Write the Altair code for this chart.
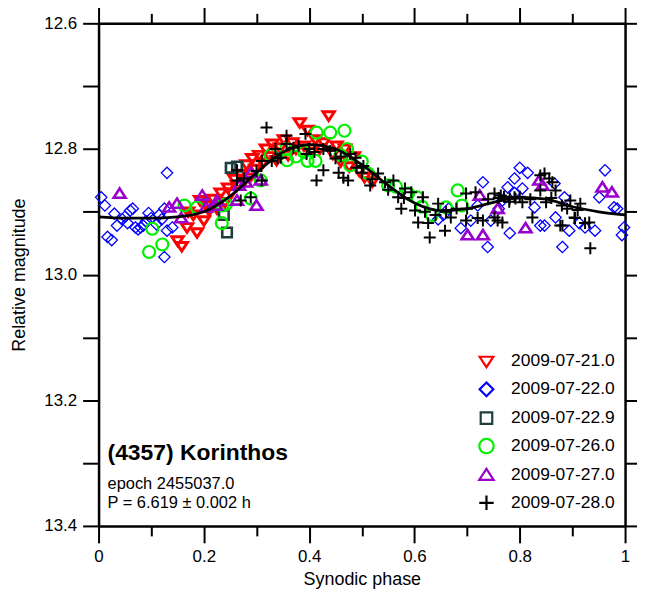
import altair as alt
import pandas as pd

series = ["2009-07-21.0", "2009-07-22.0", "2009-07-22.9",
          "2009-07-26.0", "2009-07-27.0", "2009-07-28.0"]
colors = ["#ff0000", "#0000ff", "#1f3d3d", "#00f000", "#9900cc", "#000000"]
shapes = [
    "M-0.95,-0.65L0.95,-0.65L0,0.8Z",
    "M0,-0.95L0.95,0L0,0.95L-0.95,0Z",
    "M-0.8,-0.8L0.8,-0.8L0.8,0.8L-0.8,0.8Z",
    "circle",
    "M0,-0.85L1,0.7L-1,0.7Z",
    "M-1,0L1,0M0,-1L0,1",
]
stroke_widths = [3.0, 1.3, 2.6, 2.2, 2.6, 2.0]

red_phase = [0.150, 0.158, 0.170, 0.168, 0.180, 0.187, 0.193, 0.200, 0.205, 0.210,
             0.218, 0.225, 0.232, 0.240, 0.246, 0.252, 0.258, 0.263, 0.270, 0.276,
             0.281, 0.287, 0.292, 0.298, 0.305, 0.312, 0.318, 0.325, 0.330, 0.338,
             0.345, 0.352, 0.360, 0.368, 0.375, 0.382, 0.390, 0.397, 0.405, 0.412,
             0.420, 0.428, 0.437, 0.445, 0.452, 0.460, 0.468, 0.476, 0.485, 0.495,
             0.505, 0.520]
red_mag = [12.946, 12.955, 12.900, 12.925, 12.905, 12.933, 12.882, 12.914, 12.890, 12.898,
           12.880, 12.895, 12.870, 12.885, 12.862, 12.870, 12.848, 12.858, 12.840, 12.852,
           12.825, 12.846, 12.815, 12.832, 12.810, 12.822, 12.800, 12.812, 12.792, 12.818,
           12.798, 12.785, 12.810, 12.790, 12.800, 12.758, 12.795, 12.770, 12.805, 12.785,
           12.800, 12.790, 12.747, 12.808, 12.795, 12.820, 12.800, 12.828, 12.812, 12.835,
           12.845, 12.852]

blue_phase = [0.005, 0.012, 0.017, 0.025, 0.030, 0.035, 0.045, 0.050, 0.055, 0.060,
              0.065, 0.070, 0.075, 0.080, 0.085, 0.090, 0.095, 0.100, 0.110, 0.115,
              0.120, 0.125, 0.130, 0.130, 0.125, 0.140,
              0.645, 0.655, 0.665, 0.688, 0.707, 0.720, 0.730, 0.739, 0.745, 0.760,
              0.767, 0.777, 0.781, 0.790, 0.790, 0.800, 0.805, 0.815, 0.828, 0.839,
              0.847, 0.866, 0.868, 0.881, 0.885, 0.894, 0.913, 0.924, 0.943, 0.951,
              0.962, 0.979, 0.985, 0.994, 0.998]
blue_mag = [12.877, 12.890, 12.940, 12.945, 12.903, 12.922, 12.912, 12.908, 12.918, 12.898,
            12.895, 12.925, 12.928, 12.925, 12.922, 12.915, 12.902, 12.910, 12.920, 12.905,
            12.912, 12.895, 12.838, 12.930, 12.972, 12.925,
            12.912, 12.905, 12.895, 12.926, 12.914, 12.890, 12.853, 12.956, 12.914, 12.895,
            12.882, 12.861, 12.934, 12.847, 12.870, 12.830, 12.863, 12.838, 12.893, 12.922,
            12.922, 12.855, 12.909, 12.956, 12.877, 12.930, 12.918, 12.925, 12.930, 12.877,
            12.834, 12.893, 12.895, 12.937, 12.925]

square_phase = [0.238, 0.244, 0.251, 0.263]
square_mag = [12.905, 12.933, 12.830, 12.828]

green_phase = [0.096, 0.102, 0.121, 0.163, 0.187, 0.234, 0.235, 0.242, 0.289, 0.308,
               0.327, 0.356, 0.358, 0.375, 0.390, 0.397, 0.412, 0.414, 0.440, 0.467,
               0.460, 0.472, 0.478, 0.500, 0.512, 0.550, 0.565, 0.588, 0.605, 0.614,
               0.633, 0.660, 0.682, 0.690]
green_mag = [12.964, 12.927, 12.952, 12.890, 12.893, 12.918, 12.890, 12.888, 12.879, 12.850,
             12.810, 12.800, 12.818, 12.812, 12.805, 12.819, 12.819, 12.774, 12.774, 12.771,
             12.810, 12.800, 12.826, 12.820, 12.839, 12.858, 12.860, 12.871, 12.877, 12.892,
             12.905, 12.893, 12.866, 12.890]

purple_phase = [0.040, 0.134, 0.149, 0.157, 0.197, 0.204, 0.223, 0.225, 0.263, 0.267,
                0.280, 0.289, 0.300, 0.308, 0.701, 0.724, 0.730, 0.758, 0.811, 0.837,
                0.843, 0.957, 0.975]
purple_mag = [12.871, 12.893, 12.887, 12.910, 12.874, 12.893, 12.890, 12.882, 12.882, 12.858,
              12.853, 12.838, 12.890, 12.850, 12.937, 12.874, 12.937, 12.895, 12.926, 12.850,
              12.858, 12.861, 12.869]

black_phase = [0.263, 0.263, 0.270, 0.276, 0.289, 0.300, 0.310, 0.310, 0.319, 0.329,
               0.336, 0.340, 0.346, 0.357, 0.357, 0.370, 0.380, 0.393, 0.395, 0.400,
               0.410, 0.414, 0.427, 0.427, 0.440, 0.450, 0.456, 0.460, 0.465, 0.474,
               0.478, 0.488, 0.490, 0.500, 0.503, 0.516, 0.520, 0.531, 0.544, 0.550,
               0.560, 0.569, 0.575, 0.580, 0.582, 0.594, 0.601, 0.607, 0.616, 0.620,
               0.626, 0.629, 0.640, 0.645, 0.658, 0.660, 0.669, 0.680, 0.698, 0.698,
               0.700, 0.716, 0.720, 0.730, 0.740, 0.752, 0.752, 0.758, 0.760, 0.764,
               0.767, 0.770, 0.781, 0.780, 0.790, 0.792, 0.800, 0.805, 0.820, 0.824,
               0.839, 0.839, 0.847, 0.850, 0.856, 0.862, 0.860, 0.868, 0.877, 0.880,
               0.881, 0.890, 0.896, 0.904, 0.905, 0.910, 0.915, 0.924, 0.932, 0.934]
black_mag = [12.834, 12.850, 12.882, 12.847, 12.877, 12.835, 12.819, 12.850, 12.766, 12.819,
             12.800, 12.815, 12.814, 12.779, 12.792, 12.798, 12.795, 12.776, 12.808, 12.800,
             12.805, 12.850, 12.800, 12.834, 12.803, 12.815, 12.838, 12.812, 12.846, 12.850,
             12.808, 12.814, 12.830, 12.838, 12.827, 12.858, 12.848, 12.839, 12.853, 12.865,
             12.850, 12.877, 12.895, 12.878, 12.863, 12.869, 12.898, 12.917, 12.877, 12.900,
             12.918, 12.941, 12.905, 12.887, 12.930, 12.900, 12.909, 12.895, 12.871, 12.914,
             12.895, 12.869, 12.910, 12.914, 12.880, 12.871, 12.909, 12.914, 12.878, 12.874,
             12.917, 12.876, 12.879, 12.884, 12.877, 12.879, 12.876, 12.885, 12.880, 12.909,
             12.842, 12.866, 12.839, 12.885, 12.847, 12.853, 12.878, 12.866, 12.922, 12.890,
             12.922, 12.895, 12.882, 12.909, 12.910, 12.897, 12.887, 12.918, 12.917, 12.958]

curve_phase = [0.00, 0.05, 0.10, 0.15, 0.20, 0.25, 0.30, 0.35, 0.40, 0.45, 0.50,
               0.55, 0.60, 0.65, 0.70, 0.75, 0.80, 0.85, 0.90, 0.95, 1.00]
curve_mag = [12.908, 12.910, 12.910, 12.908, 12.900, 12.875, 12.838, 12.805, 12.793, 12.800,
             12.825, 12.858, 12.886, 12.898, 12.895, 12.885, 12.877, 12.880, 12.892, 12.900,
             12.905]

x_ticks = [0.0, 0.1, 0.2, 0.3, 0.4, 0.5, 0.6, 0.7, 0.8, 0.9, 1.0]
y_ticks = [12.6, 12.7, 12.8, 12.9, 13.0, 13.1, 13.2, 13.3, 13.4]

title_text = ["(4357) Korinthos"]
info_text = ["epoch 2455037.0", "P = 6.619 \u00b1 0.002 h"]

rows = []
for name, sw, ph, mg in zip(series, stroke_widths,
                            [red_phase, blue_phase, square_phase, green_phase, purple_phase, black_phase],
                            [red_mag, blue_mag, square_mag, green_mag, purple_mag, black_mag]):
    for p, m in zip(ph, mg):
        rows.append({"phase": p, "mag": m, "date": name, "sw": sw})
df = pd.DataFrame(rows)
df["idx"] = range(len(df))
curve_df = pd.DataFrame({"phase": curve_phase, "mag": curve_mag})
title_df = pd.DataFrame({"phase": [0.017], "mag": [13.284], "text": title_text})
info_df = pd.DataFrame({"phase": [0.017, 0.017], "mag": [13.334, 13.363], "text": info_text})

FONT = "Liberation Sans"
x_scale = alt.Scale(domain=[0, 1], nice=False, zero=False)
y_scale = alt.Scale(domain=[12.6, 13.4], reverse=True, nice=False, zero=False)
major = "round(datum.value*10) % 2 == 0"
x_tick_size = {"condition": {"test": major, "value": 17}, "value": 10}

common = dict(grid=False, domainWidth=2.5, domainColor="black", tickWidth=2,
              tickColor="black", labelColor="black", titleColor="black",
              labelFont=FONT, titleFont=FONT, labelFontSize=17, titleFontSize=18,
              titleFontWeight="normal", labelOverlap=False, labelFlush=False)

x_bottom = alt.Axis(orient="bottom", values=x_ticks, tickSize=x_tick_size,
                    labelExpr=major + " ? format(datum.value, '~g') : ''",
                    labelPadding=6, title="Synodic phase", titlePadding=6, **common)
y_left = alt.Axis(orient="left", values=y_ticks, tickSize=16,
                  labelExpr=major + " ? format(datum.value, '.1f') : ''",
                  labelPadding=6, title="Relative magnitude", titlePadding=15, **common)
x_top = alt.Axis(orient="top", values=x_ticks, tickSize=x_tick_size, labels=False,
                 title=None, **common)
y_right = alt.Axis(orient="right", values=y_ticks, tickSize=16, labels=False,
                   title=None, **common)

points = alt.Chart(df).mark_point(filled=False, size=144, opacity=1).encode(
    x=alt.X("phase:Q", scale=x_scale, axis=x_bottom),
    y=alt.Y("mag:Q", scale=y_scale, axis=y_left),
    shape=alt.Shape("date:N", scale=alt.Scale(domain=series, range=shapes),
                    legend=alt.Legend(title=None, orient="none", legendX=381, legendY=331,
                                      labelFont=FONT, labelFontSize=17.5, labelColor="black",
                                      symbolSize=210, symbolStrokeWidth=2.2, rowPadding=6,
                                      labelOffset=16, padding=0)),
    color=alt.Color("date:N", scale=alt.Scale(domain=series, range=colors)),
    strokeWidth=alt.StrokeWidth("sw:Q", scale=None),
    order=alt.Order("idx:Q"),
)

curve = alt.Chart(curve_df).mark_line(color="black", strokeWidth=2.8, interpolate="monotone").encode(
    x=alt.X("phase:Q", scale=x_scale, axis=x_top),
    y=alt.Y("mag:Q", scale=y_scale, axis=y_right),
)

title_mark = alt.Chart(title_df).mark_text(align="left", baseline="middle", font=FONT,
                                           fontSize=23, fontWeight="bold", color="black").encode(
    x=alt.X("phase:Q", scale=x_scale, axis=None),
    y=alt.Y("mag:Q", scale=y_scale, axis=None),
    text="text:N",
)
info_mark = alt.Chart(info_df).mark_text(align="left", baseline="middle", font=FONT,
                                         fontSize=16.5, color="black").encode(
    x=alt.X("phase:Q", scale=x_scale, axis=None),
    y=alt.Y("mag:Q", scale=y_scale, axis=None),
    text="text:N",
)

chart = alt.layer(points, curve, title_mark, info_mark).resolve_axis(
    x="independent", y="independent"
).properties(
    width=529, height=505,
    padding={"left": 91, "top": 14, "right": 12, "bottom": 64},
    autosize=alt.AutoSizeParams(type="none"),
).configure_view(stroke=None).configure(font=FONT)

chart.save("out.html", embed_options={"renderer": "svg", "actions": False})
